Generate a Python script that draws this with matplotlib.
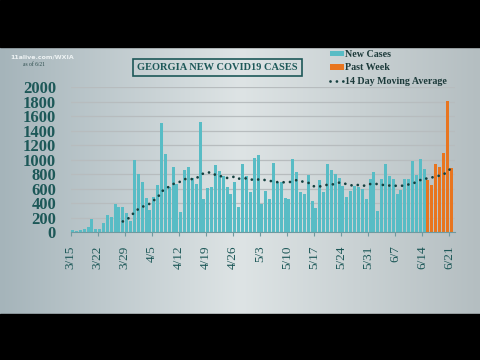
import numpy as np
import matplotlib
matplotlib.use("Agg")
from matplotlib import pyplot as plt
from matplotlib.patches import Rectangle
from matplotlib.lines import Line2D

# daily new cases 3/15 - 6/14 (teal)
new_cases = [25, 15, 30, 40, 80, 185, 50, 50, 135, 240, 210, 385, 345, 350, 270, 150,
             1000, 805, 695, 470, 310, 485, 655, 1505, 1080, 630, 905, 660, 280, 860, 895, 745,
             665, 1525, 460, 615, 630, 925, 845, 770, 620, 535, 700, 355, 940, 780, 560, 1025,
             1065, 385, 570, 455, 950, 690, 690, 480, 460, 1010, 830, 560, 535, 785, 425, 330,
             720, 555, 940, 860, 805, 755, 640, 490, 570, 640, 620, 595, 455, 735, 830, 295,
             740, 945, 770, 730, 530, 585, 740, 730, 985, 790, 1005, 870]
# past week 6/15 - 6/21 (orange)
past_week = [720, 650, 945, 895, 1090, 1805, 885]
# 14 day moving average, starts 3/28
moving_avg = [150, 175, 215, 280, 320, 350, 372, 395, 440, 480, 560, 600, 630, 665, 685, 700,
              735, 730, 735, 740, 790, 815, 825, 825, 790, 775, 770, 750, 755, 770, 740, 740,
              745, 730, 722, 728, 730, 718, 710, 700, 692, 690, 690, 690, 705, 720, 705, 695,
              685, 640, 630, 632, 648, 655, 658, 668, 685, 680, 662, 650, 640, 655, 645, 642,
              665, 670, 665, 655, 650, 645, 645, 640, 640, 648, 660, 670, 695, 720, 745, 738,
              755, 775, 780, 800, 830, 890]
ma_start = 13
tick_labels = ["3/15", "3/22", "3/29", "4/5", "4/12", "4/19", "4/26", "5/3", "5/10",
               "5/17", "5/24", "5/31", "6/7", "6/14", "6/21"]

teal = "#58bcc5"
orange = "#e8751f"
dark = "#1d5858"

fig = plt.figure(figsize=(4.8, 3.6), dpi=100)

# background (pixel coords)
bg = fig.add_axes([0, 0, 1, 1])
xs = np.linspace(0, 1, 480)
left = np.array([165, 180, 186]) / 255
mid = np.array([222, 228, 229]) / 255
right = np.array([180, 190, 193]) / 255
grad = np.zeros((2, 480, 3))
for i, t in enumerate(xs):
    if t < 0.5:
        c = left + (mid - left) * (t / 0.5)
    else:
        c = mid + (right - mid) * ((t - 0.5) / 0.5)
    grad[:, i] = c
bg.imshow(grad, extent=(0, 480, 360, 0), aspect="auto")
bg.axhspan(0, 47, color="black")
bg.axhspan(314, 360, color="black")
bg.set_xlim(0, 480)
bg.set_ylim(360, 0)
bg.axis("off")

bg.add_patch(Rectangle((132.7, 59), 169, 16.7, fill=False, ec=dark, lw=1.2))
bg.text(217, 67.5, "GEORGIA NEW COVID19 CASES", ha="center", va="center",
        family="Liberation Serif", weight="bold", fontsize=7.5, color=dark)
bg.text(10, 57, "11alive.com/WXIA", ha="left", va="center", family="DejaVu Sans",
        weight="bold", fontsize=4.5, color="#eef3f4")
bg.text(23, 64, "as of 6/21", ha="left", va="center", family="Liberation Serif",
        fontsize=4, color="#2a4a4a")

# main chart
ax = fig.add_axes([0.1473, 0.3547, 0.8006, 0.4028])
ax.patch.set_visible(False)

x_new = np.arange(len(new_cases)) + 0.5
x_past = np.arange(len(new_cases), len(new_cases) + len(past_week)) + 0.5
x_ma = np.arange(ma_start, ma_start + len(moving_avg)) + 0.5

b1 = ax.bar(x_new, new_cases, width=0.78, color=teal, zorder=2)
b2 = ax.bar(x_past, past_week, width=0.78, color=orange, zorder=2)
l1, = ax.plot(x_ma, moving_avg, color="#15403f", lw=2.0, dashes=(0.01, 2.3),
              dash_capstyle="round", zorder=3)

ax.set_xlim(0, 99.5)
ax.set_ylim(0, 2000)
ax.set_yticks(range(0, 2001, 200))
ax.set_yticklabels([str(v) for v in range(0, 2001, 200)], family="Liberation Serif",
                   weight="bold", fontsize=12, color=dark)
ax.tick_params(axis="y", length=0, pad=10.5)
ax.set_xticks(range(0, 99, 7))
ax.set_xticklabels(tick_labels, rotation=90, family="Liberation Serif", fontsize=9.5,
                   color=dark)
ax.tick_params(axis="x", length=3, color="#6f9aa0", pad=6.5)
ax.grid(axis="y", color="#b7bcbe", lw=0.9, zorder=1)
for s in ["top", "right", "left"]:
    ax.spines[s].set_visible(False)
ax.spines["bottom"].set_color("#6f9aa0")

handles = [b1, b2, Line2D([], [], color="#15403f", lw=2.0, dashes=(0.01, 2.3),
                          dash_capstyle="round")]
leg = ax.legend(handles, ["New Cases", "Past Week", "14 Day Moving Average"],
                loc="upper left", bbox_to_anchor=(330 / 480, 1 - 50 / 360),
                bbox_transform=fig.transFigure, frameon=False,
                prop={"family": "Liberation Serif", "weight": "bold", "size": 7.2},
                handlelength=1.35, handleheight=0.5, handletextpad=0.15,
                labelspacing=0.45, borderpad=0, borderaxespad=0)
for t in leg.get_texts():
    t.set_color("#1c3a3a")

fig.savefig("out.png", dpi=100)
